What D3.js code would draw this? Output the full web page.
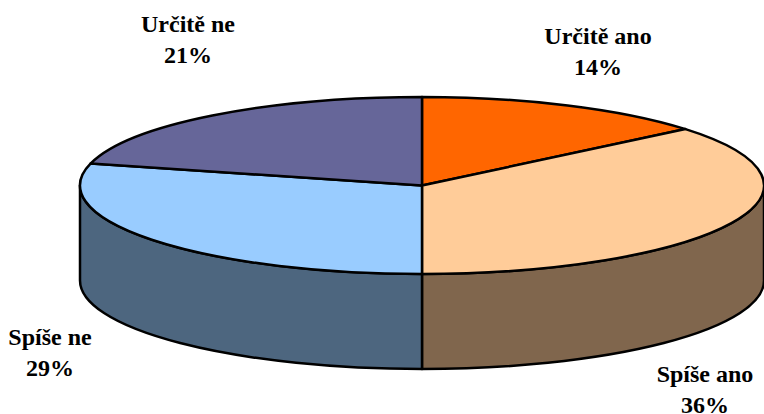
<!DOCTYPE html>
<html>
<head>
<meta charset="utf-8">
<script src="https://cdn.jsdelivr.net/npm/d3@7"></script>
<style>
  html, body { margin: 0; padding: 0; background: #fff; }
  svg { display: block; }
</style>
</head>
<body>
<div id="chart"></div>
<script>
const categories = ["Určitě ano", "Spíše ano", "Spíše ne", "Určitě ne"];
const values = [14, 36, 29, 21];
const topColors = ["#ff6600", "#ffcc99", "#99ccff", "#666699"];
const sideColors = ["#b34700", "#80664d", "#4d667f", "#33334d"];

const width = 764, height = 414;
const cx = 422, cy = 185.5, rx = 342, ry = 88.5, depth = 95;
const yScale = ry / rx;
const wall = depth / yScale; // depth in unscaled (circle) units

const svg = d3.select("#chart").append("svg")
    .attr("width", width)
    .attr("height", height);

const pie = d3.pie().sort(null)(values);

const g = svg.append("g")
    .attr("transform", "translate(" + cx + "," + cy + ") scale(1," + yScale + ")");

// Front wall, only the part of each slice between 90 and 270 degrees is visible
function wallPath(a0, a1) {
    const p = d3.path();
    const s = Math.max(a0, Math.PI / 2) - Math.PI / 2;
    const e = Math.min(a1, 3 * Math.PI / 2) - Math.PI / 2;
    p.moveTo(rx * Math.cos(s), rx * Math.sin(s));
    p.arc(0, 0, rx, s, e);
    p.lineTo(rx * Math.cos(e), rx * Math.sin(e) + wall);
    p.arc(0, wall, rx, e, s, true);
    p.closePath();
    return p.toString();
}

g.selectAll(".side")
    .data(pie.filter(d => d.endAngle > Math.PI / 2 && d.startAngle < 3 * Math.PI / 2))
    .join("path")
    .attr("class", "side")
    .attr("d", d => wallPath(d.startAngle, d.endAngle))
    .attr("fill", d => sideColors[d.index])
    .attr("stroke", "#000")
    .attr("stroke-width", 2.5)
    .attr("stroke-linejoin", "round")
    .attr("vector-effect", "non-scaling-stroke");

const arc = d3.arc().innerRadius(0).outerRadius(rx);

g.selectAll(".slice")
    .data(pie)
    .join("path")
    .attr("class", "slice")
    .attr("d", arc)
    .attr("fill", d => topColors[d.index])
    .attr("stroke", "#000")
    .attr("stroke-width", 2.5)
    .attr("stroke-linejoin", "round")
    .attr("vector-effect", "non-scaling-stroke");

// Labels
const labelX = [598, 705, 50, 188];
const labelY = [44, 382, 345, 32];

const labels = svg.selectAll(".label")
    .data(categories)
    .join("text")
    .attr("class", "label")
    .attr("text-anchor", "middle")
    .attr("font-family", "'Liberation Serif', 'Times New Roman', serif")
    .attr("font-weight", "bold")
    .attr("font-size", 24)
    .attr("fill", "#000")
    .attr("transform", (d, i) => "translate(" + labelX[i] + "," + labelY[i] + ")");

labels.append("tspan").attr("x", 0).attr("y", 0).text(d => d);
labels.append("tspan").attr("x", 0).attr("y", 31).text((d, i) => values[i] + "%");
</script>
</body>
</html>
